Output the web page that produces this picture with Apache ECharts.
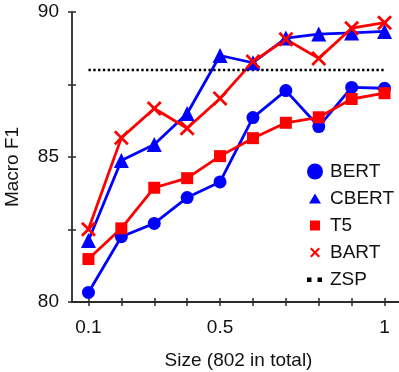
<!DOCTYPE html>
<html>
<head>
<meta charset="utf-8">
<script src="https://cdn.jsdelivr.net/npm/echarts@6/dist/echarts.min.js"></script>
<style>html,body{margin:0;padding:0;background:#fff}#c{width:399px;height:372px}</style>
</head>
<body>
<div id="c"></div>
<script>
const sizes = [0.1, 0.2, 0.3, 0.4, 0.5, 0.6, 0.7, 0.8, 0.9, 1.0];
const bert  = [80.33, 82.25, 82.71, 83.60, 84.14, 86.36, 87.29, 86.05, 87.40, 87.37];
const cbert = [82.12, 84.88, 85.43, 86.50, 88.50, 88.25, 89.10, 89.24, 89.28, 89.33];
const t5    = [81.48, 82.54, 83.94, 84.27, 85.03, 85.65, 86.18, 86.37, 87.00, 87.20];
const bart  = [82.51, 85.66, 86.67, 85.99, 87.02, 88.29, 89.06, 88.40, 89.44, 89.63];
const zspX  = [0.1, 1.0];
const zsp   = 88.0;
const xTicks = [0.1, 0.2, 0.3, 0.4, 0.5, 0.6, 0.7, 0.8, 0.9, 1.0];
const xLabels = [0.1, 0.5, 1];
const yTicks = [80, 82.5, 85, 87.5, 90];
const yLabels = [80, 85, 90];

const FONT = 'Liberation Sans, Arial, sans-serif';
const AX = '#2b2b2b';
const TXT = '#111111';
const BLUE = '#0000ff', RED = '#ff0000';
const X_PATH = 'path://M0,13L13,0L50,37L87,0L100,13L63,50L100,87L87,100L50,63L13,100L0,87L37,50Z';
const pad = 'M0,0L0.01,0L0,0.01Z M16,16L15.99,16L16,15.99Z ';
const LEG_TRI = 'path://' + pad + 'M8,3L14,13L2,13Z';
const LEG_SQ = 'path://' + pad + 'M3,3H13V13H3Z';
const LEG_X = 'path://' + pad + 'M3,4.5L4.5,3L8,6.5L11.5,3L13,4.5L9.5,8L13,11.5L11.5,13L8,9.5L4.5,13L3,11.5L6.5,8Z';
const LEG_ZSP = 'path://' + pad + 'M0,6H4.5V10.5H0Z M10.5,6H15V10.5H10.5Z';

const pair = (ys) => sizes.map((x, i) => [x, ys[i]]);

function mk(name, ys, color, symbol, size) {
  return {
    name, type: 'line', data: pair(ys), xAxisIndex: 0, yAxisIndex: 0,
    symbol, symbolSize: size, showSymbol: true,
    lineStyle: { color, width: 2.8 },
    itemStyle: { color, borderWidth: 0 },
    emphasis: { disabled: true }, animation: false
  };
}

const chart = echarts.init(document.getElementById('c'), null, { renderer: 'canvas' });
const baseX = { type: 'value', min: 0.05, max: 1.05, splitLine: { show: false } };
const baseY = { type: 'value', min: 80, max: 90, interval: 2.5, splitLine: { show: false } };
chart.setOption({
  animation: false,
  textStyle: { fontFamily: FONT },
  grid: { left: 72, top: 12, width: 329, bottom: 70, containLabel: false, outerBoundsMode: 'none' },
  xAxis: [
    Object.assign({}, baseX, {
      position: 'bottom',
      name: 'Size (802 in total)', nameLocation: 'middle', nameGap: 49,
      nameTextStyle: { fontSize: 19, color: TXT, fontFamily: FONT, padding: [0, 0, 0, 4] },
      axisLine: { show: true, lineStyle: { color: AX, width: 1.8 } },
      axisTick: { show: true, inside: false, length: 4, customValues: xTicks, lineStyle: { color: AX, width: 1.5 } },
      axisLabel: { show: true, customValues: xLabels, margin: 16, fontSize: 19, color: TXT, fontFamily: FONT,
        formatter: v => String(v) }
    }),
    Object.assign({}, baseX, {
      position: 'bottom', offset: 0,
      axisLine: { show: false },
      axisTick: { show: true, inside: true, length: 4, customValues: xTicks, lineStyle: { color: AX, width: 1.5 } },
      axisLabel: { show: false }
    })
  ],
  yAxis: [
    Object.assign({}, baseY, {
      position: 'left',
      name: 'Macro F1', nameLocation: 'middle', nameGap: 50,
      nameTextStyle: { fontSize: 19, color: TXT, fontFamily: FONT, padding: [0, 20, 0, 0] },
      axisLine: { show: true, lineStyle: { color: AX, width: 1.8 } },
      axisTick: { show: true, inside: false, length: 4, customValues: yTicks, lineStyle: { color: AX, width: 1.5 } },
      axisLabel: { show: true, customValues: yLabels, margin: 13, fontSize: 19, color: TXT, fontFamily: FONT }
    }),
    Object.assign({}, baseY, {
      position: 'left', offset: 0,
      axisLine: { show: false },
      axisTick: { show: true, inside: true, length: 4, customValues: yTicks, lineStyle: { color: AX, width: 1.5 } },
      axisLabel: { show: false }
    })
  ],
  legend: {
    orient: 'vertical', left: 302, top: 157,
    itemWidth: 16, itemHeight: 16, itemGap: 8,
    textStyle: { fontSize: 19, lineHeight: 19, color: TXT, fontFamily: FONT, padding: [0, 0, 0, 2] },
    selectedMode: false,
    data: [
      { name: 'BERT', icon: 'circle' },
      { name: 'CBERT', icon: LEG_TRI },
      { name: 'T5', icon: LEG_SQ },
      { name: 'BART', icon: LEG_X },
      { name: 'ZSP', icon: LEG_ZSP }
    ]
  },
  series: [
    mk('BERT', bert, BLUE, 'circle', 13),
    mk('CBERT', cbert, BLUE, 'triangle', 15),
    mk('T5', t5, RED, 'rect', 12),
    mk('BART', bart, RED, X_PATH, 15),
    {
      name: 'ZSP', type: 'line', data: zspX.map(x => [x, zsp]),
      symbol: 'none', showSymbol: false,
      lineStyle: { color: '#000000', width: 2.4, type: [2.4, 2.4] },
      itemStyle: { color: '#000000' },
      emphasis: { disabled: true }, animation: false
    }
  ]
});
</script>
</body>
</html>
